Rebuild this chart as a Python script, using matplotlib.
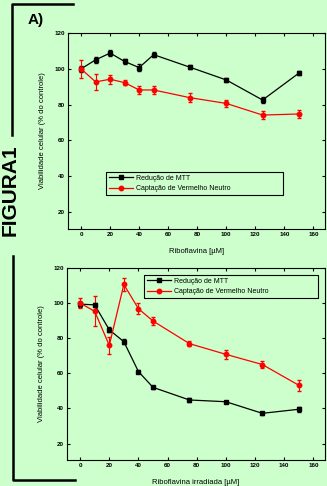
import matplotlib
matplotlib.use("Agg")
import matplotlib.pyplot as plt
from matplotlib.lines import Line2D

plt.rcParams['font.family'] = ['Liberation Sans', 'DejaVu Sans']

BG = '#ccffcc'

conc = [0, 10, 20, 30, 40, 50, 75, 100, 125, 150]

# Panel A (Riboflavina)
mtt_a = [100, 105, 108.8, 104.1, 100.7, 107.9, 100.9, 93.8, 82.6, 97.6]
mtt_a_err = [1.5, 1.5, 1.5, 1.5, 2, 1.5, 1, 1, 1.5, 1]
nr_a = [100, 92.7, 94.2, 92.3, 88.2, 88.2, 83.9, 80.7, 74.2, 74.8]
nr_a_err = [5.2, 4.4, 2.5, 1.5, 2, 2, 2.5, 2, 2, 2.5]

# Panel B (Riboflavina irradiada)
mtt_b = [99.4, 99, 84.8, 78, 61, 52, 44.8, 43.8, 37.2, 39.5]
mtt_b_err = [1.5, 1, 1.5, 1.5, 1, 1, 1, 0.5, 1, 1.5]
nr_b = [100, 95.3, 75.9, 110.6, 96.8, 89.8, 76.9, 70.8, 65, 53.2]
nr_b_err = [3, 8.5, 4.7, 3.5, 3, 2.5, 1.5, 2.5, 2, 3]

labels = ['Redução de MTT', 'Captação de Vermelho Neutro']
xticks = [0, 20, 40, 60, 80, 100, 120, 140, 160]
yticks = [20, 40, 60, 80, 100, 120]

W, H = 327, 486
fig = plt.figure(figsize=(W / 100, H / 100), dpi=100, facecolor=BG)


def px_axes(x0, y0, x1, y1):
    return fig.add_axes([x0 / W, 1 - y1 / H, (x1 - x0) / W, (y1 - y0) / H])


def panel(ax, mtt, mtt_err, nr, nr_err, xlabel, xpad, legend_box):
    ax.set_facecolor(BG)
    ax.errorbar(conc, mtt, yerr=mtt_err, color='black', marker='s', ms=3.2,
                lw=0.9, capsize=1.5, elinewidth=0.8)
    ax.errorbar(conc, nr, yerr=nr_err, color='red', marker='o', ms=3.2,
                lw=0.9, capsize=1.5, elinewidth=0.8)
    ax.set_xlim(-9, 168)
    ax.set_ylim(10.6, 120)
    ax.set_xticks(xticks)
    ax.set_yticks(yticks)
    ax.tick_params(direction='in', length=2.5, width=0.8, labelsize=4.5,
                   top=True, right=True, pad=2)
    for lab in ax.get_xticklabels() + ax.get_yticklabels():
        lab.set_fontweight('bold')
    for s in ax.spines.values():
        s.set_linewidth(0.8)
    ax.set_xlabel(xlabel, fontsize=5.5, labelpad=xpad)
    ax.set_ylabel('Viabilidade celular (% do controle)', fontsize=5.5, labelpad=6)
    handles = [Line2D([], [], color='black', marker='s', ms=3.2, lw=0.9),
               Line2D([], [], color='red', marker='o', ms=3.2, lw=0.9)]
    leg = ax.legend(handles, labels, loc='upper left', bbox_to_anchor=legend_box,
                    mode='expand', fontsize=5, frameon=True, fancybox=False,
                    edgecolor='black', facecolor=BG, framealpha=1, borderpad=0.4,
                    handlelength=3.5, labelspacing=0.5, borderaxespad=0,
                    handletextpad=0.4)
    leg.get_frame().set_linewidth(0.8)


# panel A axes: x 68..325, y 33..229
axA = px_axes(68, 33, 325, 229)
panel(axA, mtt_a, mtt_a_err, nr_a, nr_a_err, 'Riboflavina [µM]', 8,
      ((106 - 68) / 257, 1 - (172 - 33) / 196, (283 - 106) / 257, 0))

# panel B axes: x 67..325, y 268..460
axB = px_axes(67, 268, 325, 460)
panel(axB, mtt_b, mtt_b_err, nr_b, nr_b_err, 'Riboflavina irradiada [µM]', 8,
      ((144 - 67) / 258, 1 - (275 - 268) / 192, (318 - 144) / 258, 0))

# decorations: brackets, labels
def fline(xs, ys):
    fig.add_artist(Line2D([x / W for x in xs], [1 - y / H for y in ys],
                          color='black', lw=1.8, transform=fig.transFigure))

fline([73, 12, 12], [4.5, 4.5, 135])
fline([13, 13, 75], [256, 480, 480])

fig.text(28 / W, 1 - 20 / H, 'A)', fontsize=11, fontweight='bold',
         ha='left', va='center')
fig.text(10 / W, 1 - 190 / H, 'FIGURA1', fontsize=15, fontweight='bold',
         rotation=90, ha='center', va='center')

fig.savefig('out.png', dpi=100, facecolor=BG)
